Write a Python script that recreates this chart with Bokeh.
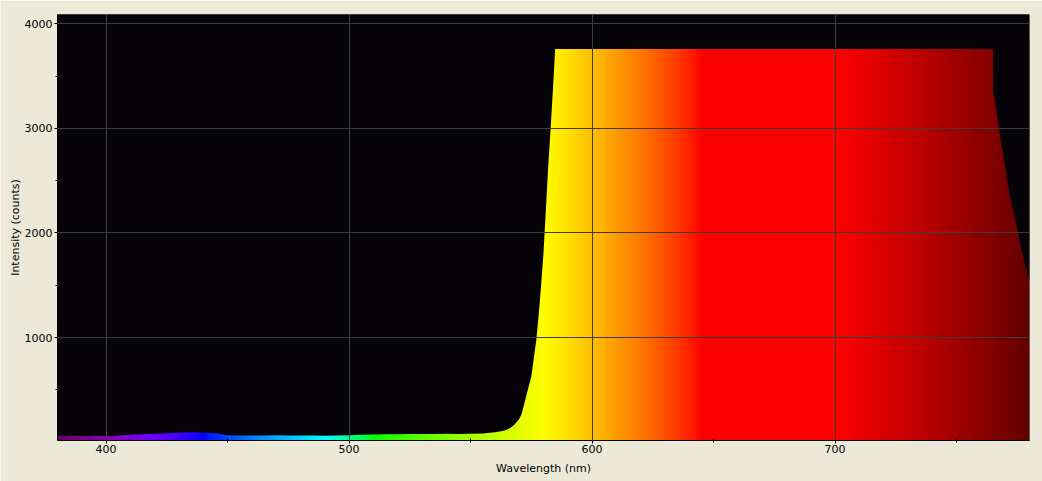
import numpy as np
from bokeh.plotting import figure
from bokeh.models import FixedTicker, Range1d
from bokeh.embed import file_html
from bokeh.resources import INLINE

# ---- data ----
wavelength = [380, 385, 390, 395, 400, 405, 410, 415, 420, 425, 430, 435, 440, 445,
              450, 455, 460, 465, 470, 475, 480, 485, 490, 495, 500, 505, 510, 515,
              520, 525, 530, 535, 540, 545, 550, 555, 560, 562, 564, 566, 568, 570,
              571, 572, 573, 574, 575, 576, 577, 578, 579, 580, 581, 582, 583, 584,
              584.8, 765, 765.1, 765.8, 766.5, 767.1, 768.2, 769.1, 770.2, 771.2,
              772.5, 773.9, 775.3, 776.7, 778, 779.4, 780]
counts = [58, 62, 57, 60, 58, 64, 70, 74, 80, 84, 88, 93, 90, 86,
          66, 63, 64, 62, 65, 63, 62, 64, 61, 63, 66, 70, 72, 74,
          75, 77, 76, 78, 79, 77, 80, 82, 95, 102, 110, 130, 165, 220,
          271, 360, 450, 540, 630, 800, 970, 1210, 1490, 1810, 2230, 2660, 3020, 3420,
          3760, 3760, 3340, 3259, 3147, 3067, 2875, 2764, 2604, 2444,
          2284, 2156, 1997, 1837, 1709, 1581, 1549]

x_ticks = [400, 500, 600, 700]
x_minor = [450, 550, 650, 750]
y_ticks = [1000, 2000, 3000, 4000]
y_minor = [500, 1500, 2500, 3500]

X_MIN, X_MAX = 380, 780
Y_MIN, Y_MAX = 15, 4090

BG = "#ECE9D8"
PLOT_BG = "#050308"
GRID = "#3c3c3c"
FONT = "DejaVu Sans"


def spectrum_rgb(w, gamma=0.8):
    """Visible-spectrum colour map (wavelength in nm -> RGB)."""
    if w < 440:
        r, g, b = -(w - 440) / 60.0, 0.0, 1.0
    elif w < 490:
        r, g, b = 0.0, (w - 440) / 50.0, 1.0
    elif w < 510:
        r, g, b = 0.0, 1.0, -(w - 510) / 20.0
    elif w < 580:
        r, g, b = (w - 510) / 70.0, 1.0, 0.0
    elif w < 645:
        r, g, b = 1.0, -(w - 645) / 65.0, 0.0
    else:
        r, g, b = 1.0, 0.0, 0.0
    if w < 420:
        f = 0.3 + 0.7 * (w - 380) / 40.0
    elif w > 700:
        f = 0.3 + 0.7 * (780 - w) / 80.0
    else:
        f = 1.0
    def c(v):
        v = max(0.0, min(1.0, v * f))
        return int(round(255 * (v ** gamma))) if v > 0 else 0
    return c(r), c(g), c(b)


# colour strip (colormap over the wavelength axis)
ncol = 800
cols = np.linspace(X_MIN, X_MAX, ncol)
img = np.empty((1, ncol), dtype=np.uint32)
view = img.view(dtype=np.uint8).reshape((1, ncol, 4))
for i, w in enumerate(cols):
    r, g, b = spectrum_rgb(w)
    view[0, i] = (r, g, b, 255)

top = max(counts) + 100

p = figure(width=1042, height=481, output_backend="svg", toolbar_location=None,
           x_range=Range1d(X_MIN, X_MAX), y_range=Range1d(Y_MIN, Y_MAX),
           background_fill_color=PLOT_BG, border_fill_color=BG,
           min_border_left=57, min_border_right=13, min_border_top=14, min_border_bottom=41)
p.outline_line_color = None

p.image_rgba(image=[img], x=X_MIN, y=0, dw=X_MAX - X_MIN, dh=top)
# black mask above the measured spectrum
p.varea(x=wavelength, y1=counts, y2=[top + 500] * len(counts), fill_color=PLOT_BG)

p.xaxis.ticker = FixedTicker(ticks=x_ticks, minor_ticks=x_minor)
p.yaxis.ticker = FixedTicker(ticks=y_ticks, minor_ticks=y_minor)

for g in (p.xgrid, p.ygrid):
    g.grid_line_color = GRID
    g.grid_line_width = 1
    g.level = "overlay"

p.xaxis.axis_label = "Wavelength (nm)"
p.yaxis.axis_label = "Intensity (counts)"
for ax in (p.xaxis, p.yaxis):
    ax.axis_line_color = "black"
    ax.major_tick_line_color = "black"
    ax.minor_tick_line_color = "black"
    ax.major_tick_out = 3
    ax.major_tick_in = 0
    ax.minor_tick_out = 2
    ax.minor_tick_in = 2
    ax.major_label_text_font = FONT
    ax.major_label_text_font_size = "11px"
    ax.major_label_text_color = "black"
    ax.axis_label_text_font = FONT
    ax.axis_label_text_font_size = "11px"
    ax.axis_label_text_font_style = "normal"
    ax.axis_label_text_color = "black"
p.xaxis.major_label_standoff = 1
p.xaxis.axis_label_standoff = 6
p.yaxis.major_label_standoff = 2
p.yaxis.axis_label_standoff = 0

open("out.html", "w").write(file_html(p, INLINE))
